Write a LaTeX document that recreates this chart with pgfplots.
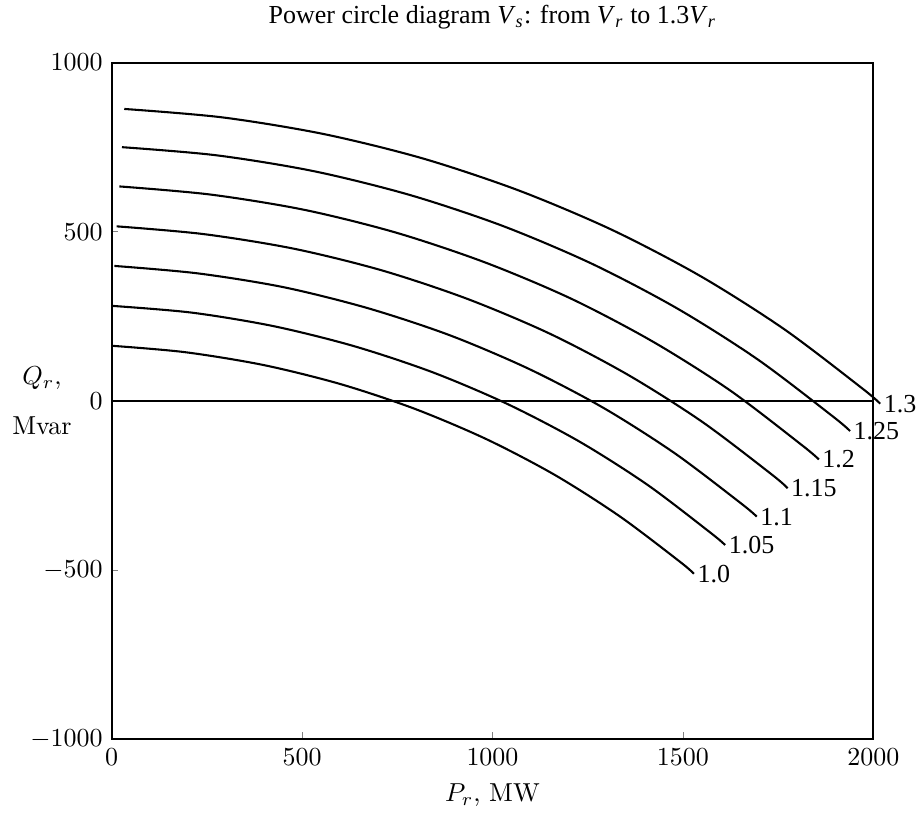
\documentclass[border=0pt]{standalone}
\usepackage{fontspec}
\usepackage{pgfplots}
\pgfplotsset{compat=1.18}
\newfontfamily\tnr{Liberation Serif}
\tikzset{lbl/.style={pos=1, anchor=west, inner sep=1pt, font=\tnr},
  crv/.style={black, solid, line width=0.8pt, smooth, mark=none}}
\begin{document}
\begin{tikzpicture}
\useasboundingbox (-43pt,-33pt) rectangle (310.8pt,284.6pt);
\begin{axis}[
  scale only axis, width=293.2pt, height=260.5pt,
  xmin=0, xmax=2000, ymin=-1000, ymax=1000,
  xtick={0,500,1000,1500,2000}, ytick={-1000,-500,0,500,1000},
  /pgf/number format/1000 sep={},
  tick pos=left, tick align=inside, major tick length=2.6pt,
  axis line style={line width=0.8pt},
  clip=false,
  title={{\tnr Power circle diagram \textit{V}\textsubscript{\textit{s}}: from \textit{V}\textsubscript{\textit{r}} to 1.3\textit{V}\textsubscript{\textit{r}}}},
  every axis title/.style={at={(axis description cs:0.5,1)}, anchor=center, yshift=17.6pt},
  xlabel={$P_r$, MW},
  xlabel style={at={(axis description cs:0.5,0)}, anchor=center, yshift=-21.5pt},
  ylabel={$Q_r$,\\[7pt]Mvar},
  ylabel style={rotate=-90, at={(axis description cs:-0.0915,0.5)}, anchor=center, align=center},
]
\addplot[black, line width=0.6pt, mark=none] coordinates {(0,0) (2000,0)};
\addplot[crv] coordinates {(0,163) (193,144) (399,106) (600,50) (795,-23) (984,-113) (1164,-219) (1334,-341) (1493,-476) (1529,-511)} node[lbl] {1.0};
\addplot[crv] coordinates {(0,281) (210,261) (425,221) (636,162) (842,85) (1039,-9) (1228,-120) (1407,-248) (1573,-390) (1611,-426)} node[lbl] {1.05};
\addplot[crv] coordinates {(7,399) (226,377) (452,336) (673,274) (888,194) (1095,95) (1292,-21) (1479,-155) (1654,-304) (1694,-342)} node[lbl] {1.1};
\addplot[crv] coordinates {(13,516) (242,493) (478,450) (709,386) (933,302) (1150,199) (1356,77) (1551,-62) (1734,-218) (1775,-258)} node[lbl] {1.15};
\addplot[crv] coordinates {(20,634) (259,610) (505,565) (745,498) (979,410) (1205,303) (1420,176) (1624,31) (1814,-132) (1857,-173)} node[lbl] {1.2};
\addplot[crv] coordinates {(27,750) (275,726) (531,679) (782,609) (1025,518) (1260,406) (1484,274) (1696,123) (1894,-46) (1939,-89)} node[lbl] {1.25};
\addplot[crv] coordinates {(33,863) (291,838) (556,789) (816,717) (1069,622) (1313,506) (1546,369) (1766,212) (1971,37) (2018,-8)} node[lbl] {1.3};
\end{axis}
\end{tikzpicture}
\end{document}
